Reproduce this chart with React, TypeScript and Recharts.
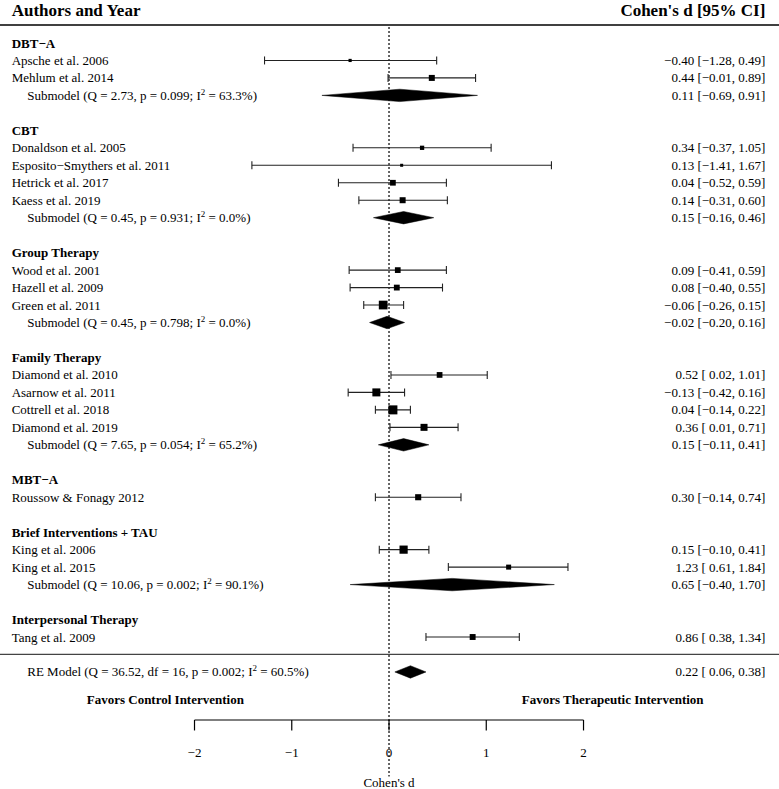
import { Area, ComposedChart, ErrorBar, ReferenceLine, Scatter, XAxis, YAxis } from "recharts";

// ---- data ----
const GROUPS = ["DBT−A", "CBT", "Group Therapy", "Family Therapy", "MBT−A", "Brief Interventions + TAU", "Interpersonal Therapy"];

const STUDIES = [
  "Apsche et al. 2006", "Mehlum et al. 2014",
  "Donaldson et al. 2005", "Esposito−Smythers et al. 2011", "Hetrick et al. 2017", "Kaess et al. 2019",
  "Wood et al. 2001", "Hazell et al. 2009", "Green et al. 2011",
  "Diamond et al. 2010", "Asarnow et al. 2011", "Cottrell et al. 2018", "Diamond et al. 2019",
  "Roussow & Fonagy 2012",
  "King et al. 2006", "King et al. 2015",
  "Tang et al. 2009",
];
const STUDY_GROUP = [0, 0, 1, 1, 1, 1, 2, 2, 2, 3, 3, 3, 3, 4, 5, 5, 6];
const EST = [-0.40, 0.44, 0.34, 0.13, 0.04, 0.14, 0.09, 0.08, -0.06, 0.52, -0.13, 0.04, 0.36, 0.30, 0.15, 1.23, 0.86];
const LOW = [-1.28, -0.01, -0.37, -1.41, -0.52, -0.31, -0.41, -0.40, -0.26, 0.02, -0.42, -0.14, 0.01, -0.14, -0.10, 0.61, 0.38];
const HIGH = [0.49, 0.89, 1.05, 1.67, 0.59, 0.60, 0.59, 0.55, 0.15, 1.01, 0.16, 0.22, 0.71, 0.74, 0.41, 1.84, 1.34];
// approximate random-effects weights (%), read from the square sizes
const WEIGHTS = [2.2, 5.3, 3.4, 2.0, 5.0, 5.3, 5.0, 5.1, 8.3, 5.0, 7.5, 8.6, 6.4, 5.4, 7.7, 4.2, 5.2];

// subgroup models, null where a group has only one study
const SUB_EST = [0.11, 0.15, -0.02, 0.15, null, 0.65, null];
const SUB_LOW = [-0.69, -0.16, -0.20, -0.11, null, -0.40, null];
const SUB_HIGH = [0.91, 0.46, 0.16, 0.41, null, 1.70, null];
const SUB_Q = [2.73, 0.45, 0.45, 7.65, null, 10.06, null];
const SUB_P = [0.099, 0.931, 0.798, 0.054, null, 0.002, null];
const SUB_I2 = [63.3, 0.0, 0.0, 65.2, null, 90.1, null];

const RE_EST = 0.22;
const RE_LOW = 0.06;
const RE_HIGH = 0.38;
const RE_Q = 36.52;
const RE_DF = 16;
const RE_P = 0.002;
const RE_I2 = 60.5;

const TICKS = [-2, -1, 0, 1, 2];

// ---- layout ----
const FONT = '"Liberation Serif", "Times New Roman", Times, serif';
const COL_LEFT = -3.88;
const COL_INDENT = -3.72;
const COL_RIGHT = 3.87;
const HALF_H = 0.355;

const fmt = (v: number) => (v < 0 ? "−" : "") + Math.abs(v).toFixed(2);
const fmtLo = (v: number) => (v < 0 ? fmt(v) : " " + fmt(v));
const ci = (e: number, l: number, h: number) => `${fmt(e)} [${fmtLo(l)}, ${fmt(h)}]`;

type Label = { x: number; y: number; kind: string; text: string; post?: string };

const labels: Label[] = [];
const points: { x: number; y: number; w: number; err: number[] }[] = [];
const diamonds: { x: number; band: number[] }[][] = [];

const diamond = (e: number, l: number, h: number, y: number) => [
  { x: l, band: [y, y] },
  { x: e, band: [y - HALF_H, y + HALF_H] },
  { x: h, band: [y, y] },
];

let slot = 0;
GROUPS.forEach((g, gi) => {
  labels.push({ x: COL_LEFT, y: slot, kind: "group", text: g });
  slot++;
  STUDIES.forEach((name, i) => {
    if (STUDY_GROUP[i] !== gi) return;
    labels.push({ x: COL_LEFT, y: slot, kind: "study", text: name });
    labels.push({ x: COL_RIGHT, y: slot, kind: "value", text: ci(EST[i], LOW[i], HIGH[i]) });
    points.push({ x: EST[i], y: slot, w: WEIGHTS[i], err: [EST[i] - LOW[i], HIGH[i] - EST[i]] });
    slot++;
  });
  const se = SUB_EST[gi];
  if (se != null) {
    labels.push({
      x: COL_INDENT, y: slot, kind: "sub",
      text: `Submodel (Q = ${SUB_Q[gi]!.toFixed(2)}, p = ${SUB_P[gi]!.toFixed(3)}; I`,
      post: ` = ${SUB_I2[gi]!.toFixed(1)}%)`,
    });
    labels.push({ x: COL_RIGHT, y: slot, kind: "value", text: ci(se, SUB_LOW[gi]!, SUB_HIGH[gi]!) });
    diamonds.push(diamond(se, SUB_LOW[gi]!, SUB_HIGH[gi]!, slot));
    slot++;
  }
  slot++;
});

const SEP_ROW = slot - 1;
const RE_ROW = slot;
const FAVORS_ROW = RE_ROW + 1.6;
const AXIS_ROW = RE_ROW + 2.75;
const TICK_END = AXIS_ROW + 0.6;
const TICKLAB_ROW = RE_ROW + 4.6;
const XLAB_ROW = RE_ROW + 6.34;

labels.push({
  x: COL_INDENT, y: RE_ROW, kind: "sub",
  text: `RE Model (Q = ${RE_Q.toFixed(2)}, df = ${RE_DF}, p = ${RE_P.toFixed(3)}; I`,
  post: ` = ${RE_I2.toFixed(1)}%)`,
});
labels.push({ x: COL_RIGHT, y: RE_ROW, kind: "value", text: ci(RE_EST, RE_LOW, RE_HIGH) });
diamonds.push(diamond(RE_EST, RE_LOW, RE_HIGH, RE_ROW));

labels.push({ x: COL_LEFT, y: -1.9, kind: "headL", text: "Authors and Year" });
labels.push({ x: COL_RIGHT, y: -1.9, kind: "headR", text: "Cohen's d [95% CI]" });
labels.push({ x: -2.3, y: FAVORS_ROW, kind: "favor", text: "Favors Control Intervention" });
labels.push({ x: 2.3, y: FAVORS_ROW, kind: "favor", text: "Favors Therapeutic Intervention" });
TICKS.forEach((t) => labels.push({ x: t, y: TICKLAB_ROW, kind: "tick", text: fmt(t).replace(".00", "") }));
labels.push({ x: 0, y: XLAB_ROW, kind: "tick", text: "Cohen's d" });

const STYLE: Record<string, { anchor: "start" | "end" | "middle"; size: number; weight: string }> = {
  group: { anchor: "start", size: 13, weight: "bold" },
  study: { anchor: "start", size: 13, weight: "normal" },
  sub: { anchor: "start", size: 13, weight: "normal" },
  value: { anchor: "end", size: 13, weight: "normal" },
  headL: { anchor: "start", size: 17, weight: "bold" },
  headR: { anchor: "end", size: 17, weight: "bold" },
  favor: { anchor: "middle", size: 13, weight: "bold" },
  tick: { anchor: "middle", size: 13, weight: "normal" },
};

const TextShape = (props: any) => {
  const { cx, cy, payload } = props;
  const st = STYLE[payload.kind];
  return (
    <text
      x={cx}
      y={cy}
      dy="0.35em"
      textAnchor={st.anchor}
      fontSize={st.size}
      fontWeight={st.weight}
      fontFamily={FONT}
      fill="#000"
      style={{ whiteSpace: "pre" }}
    >
      {payload.text}
      {payload.post != null && (
        <>
          <tspan dy={-5} fontSize={9}>2</tspan>
          <tspan dy={5}>{payload.post}</tspan>
        </>
      )}
    </text>
  );
};

const wMin = Math.min(...WEIGHTS);
const wMax = Math.max(...WEIGHTS);

const SquareShape = (props: any) => {
  const { cx, cy, payload } = props;
  const s = 3 + (6 * (payload.w - wMin)) / (wMax - wMin);
  return <rect x={cx - s / 2} y={cy - s / 2} width={s} height={s} fill="#000" />;
};

export default function App() {
  return (
    <div style={{ position: "absolute", left: 0, top: 0, width: 779, height: 789, background: "#fff" }}>
      <ComposedChart width={779} height={789} margin={{ top: 0, right: 0, bottom: 0, left: 0 }}>
        <XAxis type="number" dataKey="x" domain={[-4, 4.01]} allowDataOverflow hide />
        <YAxis type="number" dataKey="y" domain={[-2.46, 42.7]} allowDataOverflow reversed hide />

        <ReferenceLine y={-1.03} stroke="#000" strokeWidth={1.4} />
        <ReferenceLine y={SEP_ROW} stroke="#444" strokeWidth={1.2} />
        <ReferenceLine
          segment={[{ x: 0, y: -0.92 }, { x: 0, y: XLAB_ROW - 0.35 }]}
          stroke="#000"
          strokeWidth={1.2}
          strokeDasharray="2 2"
        />
        <ReferenceLine segment={[{ x: -2, y: AXIS_ROW }, { x: 2, y: AXIS_ROW }]} stroke="#000" strokeWidth={1.2} />
        {TICKS.map((t) => (
          <ReferenceLine key={t} segment={[{ x: t, y: AXIS_ROW }, { x: t, y: TICK_END }]} stroke="#000" strokeWidth={1.2} />
        ))}

        {diamonds.map((d, i) => (
          <Area
            key={i}
            data={d}
            dataKey="band"
            type="linear"
            stroke="#000"
            strokeWidth={0.5}
            fill="#000"
            fillOpacity={1}
            dot={false}
            activeDot={false}
            isAnimationActive={false}
          />
        ))}

        <Scatter data={points} shape={SquareShape} isAnimationActive={false}>
          <ErrorBar dataKey="err" direction="x" width={4} stroke="#222" strokeWidth={1.1} isAnimationActive={false} />
        </Scatter>

        <Scatter data={labels} shape={TextShape} isAnimationActive={false} />
      </ComposedChart>
    </div>
  );
}
